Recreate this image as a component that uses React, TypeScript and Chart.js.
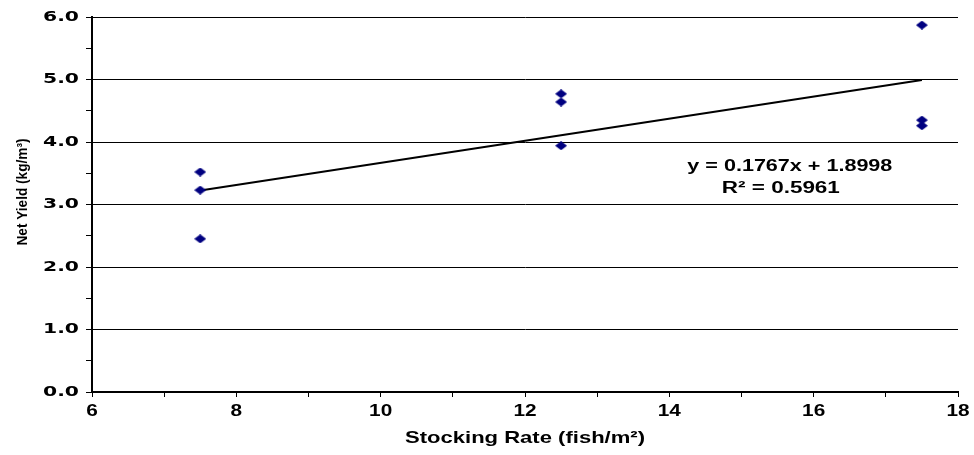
import { useEffect, useRef } from 'react';
import { Chart, registerables } from 'chart.js';

Chart.register(...registerables);

// ---- data ----
const stockingRate = [7.5, 7.5, 7.5, 12.5, 12.5, 12.5, 17.5, 17.5, 17.5];
const netYield = [3.52, 3.23, 2.45, 4.77, 4.64, 3.94, 5.87, 4.35, 4.26];
const trendX = [7.5, 17.5];
const trendY = [3.225, 4.992];
const xRange = [6, 18];
const yRange = [0, 6];
const xLabelStep = 2;
const equationLines = ['y = 0.1767x + 1.8998', 'R\u00B2 = 0.5961'];
const equationAnchor = [15.67, 3.6];
const xTitle = 'Stocking Rate (fish/m\u00B2)';
const yTitle = 'Net Yield (kg/m\u00B3)';

function makeDiamond(): HTMLCanvasElement {
  const c = document.createElement('canvas');
  c.width = 12;
  c.height = 9;
  const g = c.getContext('2d')!;
  g.fillStyle = '#000080';
  g.beginPath();
  g.moveTo(6, 0);
  g.lineTo(12, 4.5);
  g.lineTo(6, 9);
  g.lineTo(0, 4.5);
  g.closePath();
  g.fill();
  return c;
}

// draw text horizontally stretched so that it spans `width` pixels
function fitText(
  ctx: CanvasRenderingContext2D,
  text: string,
  x: number,
  y: number,
  width: number,
  align: CanvasTextAlign,
  rot = 0
) {
  const w = ctx.measureText(text).width || 1;
  ctx.save();
  ctx.translate(x, y);
  ctx.rotate(rot);
  ctx.scale(width / w, 1);
  ctx.textAlign = align;
  ctx.textBaseline = 'middle';
  ctx.fillText(text, 0, 0);
  ctx.restore();
}

function scaledText(
  ctx: CanvasRenderingContext2D,
  text: string,
  x: number,
  y: number,
  sx: number,
  align: CanvasTextAlign
) {
  ctx.save();
  ctx.translate(x, y);
  ctx.scale(sx, 1);
  ctx.textAlign = align;
  ctx.textBaseline = 'middle';
  ctx.fillText(text, 0, 0);
  ctx.restore();
}

const isInt = (v: number) => Math.abs(v - Math.round(v)) < 1e-6;

const textPlugin = {
  id: 'customText',
  afterDraw(chart: any) {
    const { ctx, scales } = chart;
    const xs = scales.x;
    const ys = scales.y;
    ctx.save();
    ctx.fillStyle = '#000';
    // y tick labels
    ctx.font = 'bold 14px "DejaVu Sans"';
    const ysx = 36 / (ctx.measureText('6.0').width || 1);
    ys.ticks.forEach((t: any) => {
      if (isInt(t.value)) {
        scaledText(ctx, t.value.toFixed(1), ys.right - 13, ys.getPixelForValue(t.value), ysx, 'right');
      }
    });
    // x tick labels
    ctx.font = 'bold 16px "Liberation Sans"';
    xs.ticks.forEach((t: any) => {
      if (isInt(t.value) && Math.round(t.value) % xLabelStep === 0) {
        scaledText(ctx, String(t.value), xs.getPixelForValue(t.value), xs.top + 20, 1.3, 'center');
      }
    });
    // y title
    ctx.font = 'bold 15px "Liberation Sans"';
    fitText(ctx, yTitle, 23, 192, 107, 'center', -Math.PI / 2);
    // x title
    ctx.font = 'bold 17px "Liberation Sans"';
    fitText(ctx, xTitle, 525, 438, 240, 'center');
    // equation
    ctx.font = 'bold 16px "Liberation Sans"';
    const ex = xs.getPixelForValue(equationAnchor[0]);
    const ey = ys.getPixelForValue(equationAnchor[1]);
    fitText(ctx, equationLines[0], ex, ey, 205, 'center');
    fitText(ctx, equationLines[1], ex - 9, ey + 22, 118, 'center');
    ctx.restore();
  },
};

export default function App() {
  const ref = useRef<HTMLCanvasElement>(null);
  useEffect(() => {
    if (!ref.current) return;
    const diamond = makeDiamond();
    const chart = new Chart(ref.current, {
      type: 'scatter',
      data: {
        datasets: [
          {
            label: 'Net Yield',
            data: stockingRate.map((x, i) => ({ x, y: netYield[i] })),
            pointStyle: diamond as any,
            pointRadius: 6,
            backgroundColor: '#000080',
            borderColor: '#000080',
            order: 1,
          },
          {
            label: 'Linear trend',
            data: trendX.map((x, i) => ({ x, y: trendY[i] })),
            showLine: true,
            borderColor: '#000',
            borderWidth: 2,
            pointRadius: 0,
            order: 2,
          } as any,
        ],
      },
      options: {
        animation: false,
        responsive: false,
        layout: { padding: { left: 0, right: 16, top: 17, bottom: 0 } },
        plugins: { legend: { display: false }, tooltip: { enabled: false } },
        scales: {
          x: {
            type: 'linear',
            min: xRange[0],
            max: xRange[1],
            afterFit: (s: any) => {
              s.height = 63;
            },
            ticks: { stepSize: 1, autoSkip: false, display: false },
            grid: {
              drawOnChartArea: false,
              tickColor: '#000',
              tickLength: 5,
              lineWidth: 1,
            },
            border: { color: '#000', width: 2 },
          },
          y: {
            type: 'linear',
            min: yRange[0],
            max: yRange[1],
            afterFit: (s: any) => {
              s.width = 92;
            },
            ticks: { stepSize: 0.5, display: false },
            grid: {
              color: (c: any) =>
                c.tick && c.tick.value > 0 && isInt(c.tick.value) ? '#000' : 'rgba(0,0,0,0)',
              tickColor: '#000',
              tickLength: 6,
              lineWidth: 1,
            },
            border: { color: '#000', width: 2 },
          },
        },
      } as any,
      plugins: [textPlugin],
    });
    return () => chart.destroy();
  }, []);
  return (
    <div style={{ position: 'fixed', left: 0, top: 0, width: 974, height: 455, background: '#fff' }}>
      <canvas ref={ref} width={974} height={455} style={{ display: 'block' }} />
    </div>
  );
}
